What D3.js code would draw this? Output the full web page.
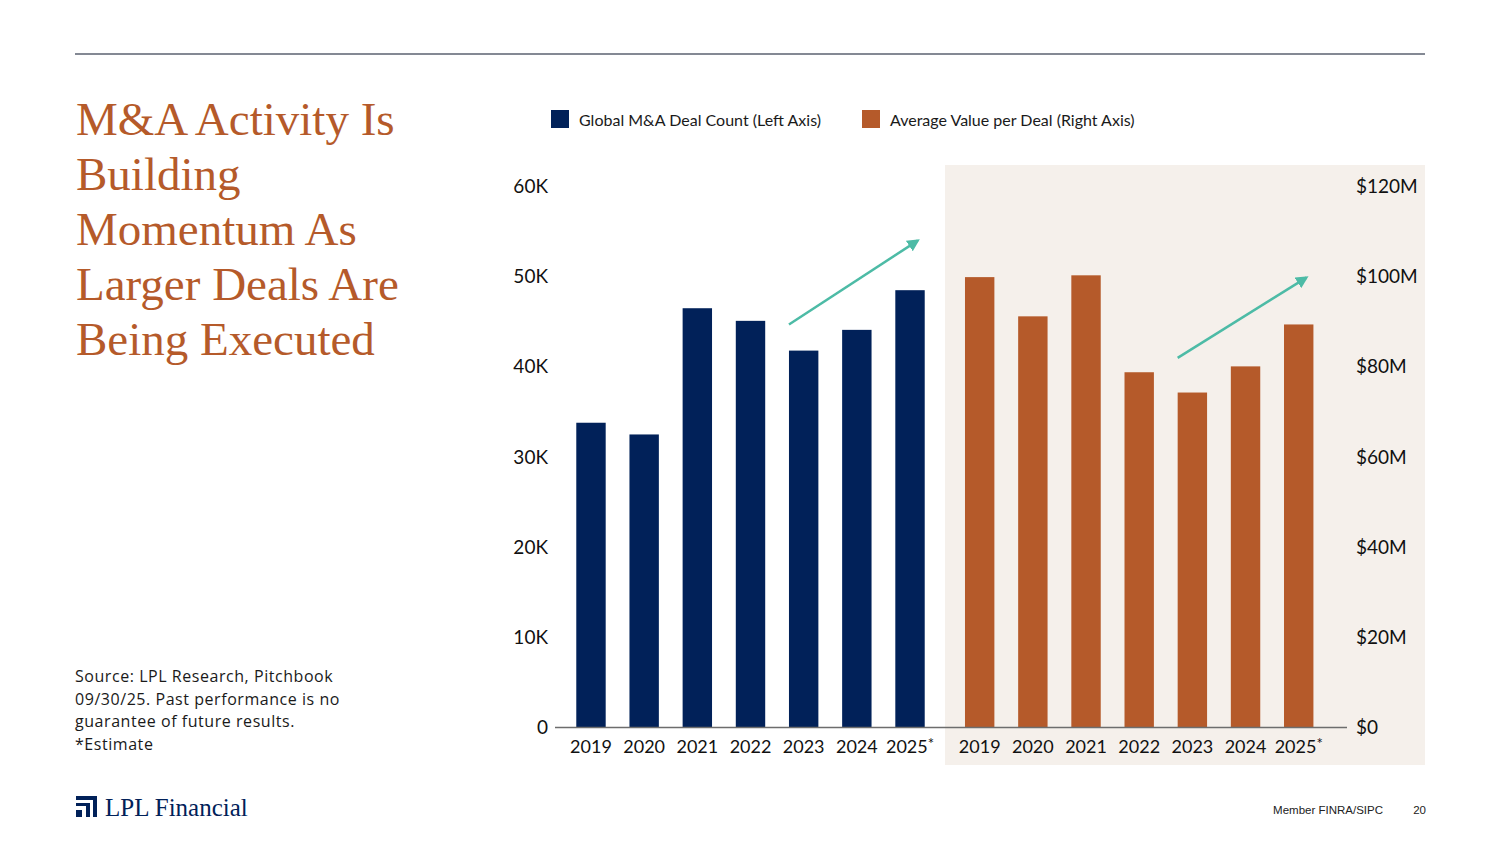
<!DOCTYPE html>
<html>
<head>
<meta charset="utf-8">
<script src="https://cdn.jsdelivr.net/npm/d3@7"></script>
<style>
  body { margin: 0; background: #fff; }
  svg { display: block; }
  .axis text { font-family: Lato, sans-serif; font-size: 19px; fill: #111; }
  .axis.x text { font-size: 18px; }
  .axis path, .axis line { display: none; }
</style>
</head>
<body>
<svg id="chart" width="1500" height="844"></svg>
<script>
// data
var years = ["2019", "2020", "2021", "2022", "2023", "2024", "2025*"];
var dealCount = [33800, 32500, 46500, 45100, 41800, 44100, 48500];
var avgValue = [99.9, 91.2, 100.3, 78.8, 74.3, 80.1, 89.4]; // $M
var countTicks = [0, 10000, 20000, 30000, 40000, 50000, 60000];
var valueTicks = [0, 20, 40, 60, 80, 100, 120];
var titleLines = ["M&A Activity Is", "Building", "Momentum As", "Larger Deals Are", "Being Executed"];
var sourceLines = ["Source: LPL Research, Pitchbook", "09/30/25. Past performance is no", "guarantee of future results.", "*Estimate"];

var navy = "#012159", rust = "#b55a2a", teal = "#4dbba6";

var svg = d3.select("#chart");

// top rule
svg.append("line")
    .attr("x1", 75).attr("x2", 1425).attr("y1", 54).attr("y2", 54)
    .attr("stroke", "#5b6270").attr("stroke-width", 1.5);

// title
svg.append("text")
    .attr("x", 76).attr("y", 135)
    .attr("font-family", "'Liberation Serif', serif")
    .attr("font-size", 47)
    .attr("fill", rust)
    .selectAll("tspan")
    .data(titleLines)
    .enter().append("tspan")
    .attr("x", 76)
    .attr("dy", function(d, i) { return i == 0 ? 0 : 55; })
    .text(function(d) { return d; });

// source note
svg.append("text")
    .attr("x", 75).attr("y", 682)
    .attr("font-family", "'Open Sans', sans-serif")
    .attr("font-size", 16)
    .attr("letter-spacing", 0.55)
    .attr("fill", "#1a1a1a")
    .selectAll("tspan")
    .data(sourceLines)
    .enter().append("tspan")
    .attr("x", 75)
    .attr("dy", function(d, i) { return i == 0 ? 0 : 22.6; })
    .text(function(d) { return d; });

// shaded panel behind the value bars
svg.append("rect")
    .attr("x", 945).attr("y", 165).attr("width", 480).attr("height", 600)
    .attr("fill", "#f5f0eb");

// scales
var yLeft = d3.scaleLinear().domain([0, 60000]).range([727.5, 186.5]);
var yRight = d3.scaleLinear().domain([0, 120]).range([727.5, 186.5]);

var xLeft = d3.scaleBand().domain(years)
    .range([564.4, 936.6]).paddingInner(0.447).paddingOuter(0.2235);
var xRight = d3.scaleBand().domain(years)
    .range([953.1, 1325.3]).paddingInner(0.447).paddingOuter(0.2235);

// bars
svg.append("g").selectAll("rect")
    .data(dealCount)
    .enter().append("rect")
    .attr("x", function(d, i) { return xLeft(years[i]); })
    .attr("width", xLeft.bandwidth())
    .attr("y", function(d) { return yLeft(d); })
    .attr("height", function(d) { return yLeft(0) - yLeft(d); })
    .attr("fill", navy);

svg.append("g").selectAll("rect")
    .data(avgValue)
    .enter().append("rect")
    .attr("x", function(d, i) { return xRight(years[i]); })
    .attr("width", xRight.bandwidth())
    .attr("y", function(d) { return yRight(d); })
    .attr("height", function(d) { return yRight(0) - yRight(d); })
    .attr("fill", rust);

// baseline
svg.append("line")
    .attr("x1", 555).attr("x2", 1347)
    .attr("y1", yLeft(0)).attr("y2", yLeft(0))
    .attr("stroke", "#6d6d6d").attr("stroke-width", 1.5);

// y axes
var fmtK = function(d) { return d == 0 ? "0" : (d / 1000) + "K"; };
var fmtM = function(d) { return d == 0 ? "$0" : "$" + d + "M"; };

svg.append("g").attr("class", "axis")
    .attr("transform", "translate(555,0)")
    .call(d3.axisLeft(yLeft).tickValues(countTicks).tickFormat(fmtK).tickSize(0).tickPadding(7));

svg.append("g").attr("class", "axis")
    .attr("transform", "translate(1347,0)")
    .call(d3.axisRight(yRight).tickValues(valueTicks).tickFormat(fmtM).tickSize(0).tickPadding(9));

// x axes, with the asterisk set small and raised
function starLabels(sel) {
    sel.selectAll(".tick text").each(function(d) {
        var t = d3.select(this);
        if (d.slice(-1) == "*") {
            t.text(d.slice(0, -1));
            t.append("tspan").attr("font-size", 15).attr("dy", "-0.3em").text("*");
        }
    });
}

svg.append("g").attr("class", "axis x")
    .attr("transform", "translate(0," + yLeft(0) + ")")
    .call(d3.axisBottom(xLeft).tickSize(0).tickPadding(13))
    .call(starLabels);

svg.append("g").attr("class", "axis x")
    .attr("transform", "translate(0," + yRight(0) + ")")
    .call(d3.axisBottom(xRight).tickSize(0).tickPadding(13))
    .call(starLabels);

// trend arrows
var defs = svg.append("defs");
defs.append("marker")
    .attr("id", "head")
    .attr("viewBox", "0 0 10 10")
    .attr("refX", 8).attr("refY", 5)
    .attr("markerWidth", 5).attr("markerHeight", 5)
    .attr("orient", "auto")
    .append("path")
    .attr("d", "M0,0 L10,5 L0,10 z")
    .attr("fill", teal);

svg.append("line")
    .attr("x1", xLeft("2023")).attr("y1", yLeft(44700))
    .attr("x2", xLeft("2025*") + xLeft.bandwidth() - 7).attr("y2", yLeft(54000))
    .attr("stroke", teal).attr("stroke-width", 2.5)
    .attr("marker-end", "url(#head)");

svg.append("line")
    .attr("x1", xRight("2023")).attr("y1", yRight(82))
    .attr("x2", xRight("2025*") + xRight.bandwidth() - 7).attr("y2", yRight(99.8))
    .attr("stroke", teal).attr("stroke-width", 2.5)
    .attr("marker-end", "url(#head)");

// legend
var legendItems = [
    { label: "Global M&A Deal Count (Left Axis)", color: navy, x: 551 },
    { label: "Average Value per Deal (Right Axis)", color: rust, x: 862 }
];
var legend = svg.append("g").selectAll("g")
    .data(legendItems)
    .enter().append("g")
    .attr("transform", function(d) { return "translate(" + d.x + ",110)"; });
legend.append("rect").attr("width", 18).attr("height", 18)
    .attr("fill", function(d) { return d.color; });
legend.append("text")
    .attr("x", 28).attr("y", 15.5)
    .attr("font-family", "Lato, sans-serif").attr("font-size", 16)
    .attr("fill", "#1a1a1a")
    .text(function(d) { return d.label; });

// logo
var logo = svg.append("g").attr("fill", navy);
logo.append("rect").attr("x", 76).attr("y", 796).attr("width", 21).attr("height", 4);
logo.append("rect").attr("x", 93).attr("y", 796).attr("width", 4).attr("height", 21);
logo.append("rect").attr("x", 76).attr("y", 803).attr("width", 14).attr("height", 3);
logo.append("rect").attr("x", 86).attr("y", 803).attr("width", 4).attr("height", 14);
logo.append("rect").attr("x", 76).attr("y", 810).attr("width", 6).attr("height", 7);
svg.append("text")
    .attr("x", 105).attr("y", 816)
    .attr("font-family", "'Liberation Serif', serif").attr("font-size", 25)
    .attr("fill", navy)
    .text("LPL Financial");

// footer
svg.append("text")
    .attr("x", 1383).attr("y", 814).attr("text-anchor", "end")
    .attr("font-family", "'Liberation Sans', sans-serif").attr("font-size", 11.5)
    .attr("fill", "#222")
    .text("Member FINRA/SIPC");
svg.append("text")
    .attr("x", 1426).attr("y", 814).attr("text-anchor", "end")
    .attr("font-family", "'Liberation Sans', sans-serif").attr("font-size", 11.5)
    .attr("fill", "#222")
    .text("20");
</script>
</body>
</html>
